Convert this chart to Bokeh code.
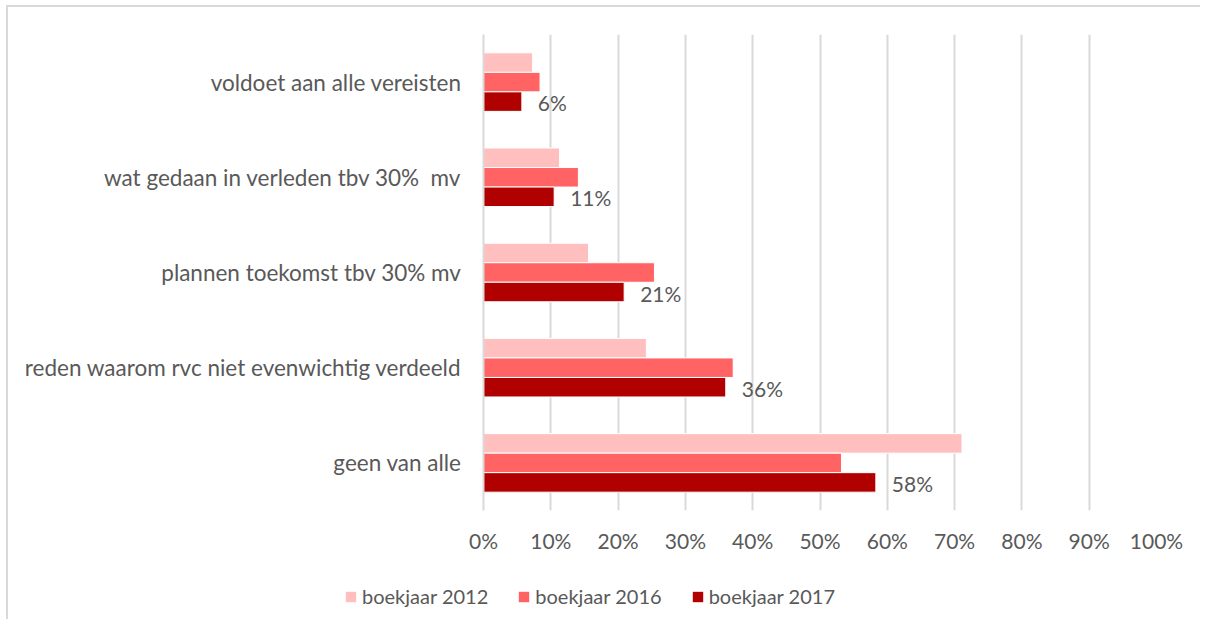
from bokeh.plotting import figure
from bokeh.layouts import column, row
from bokeh.models import (ColumnDataSource, FactorRange, Legend, LegendItem, FixedTicker,
                          NumeralTickFormatter, Range1d)
from bokeh.transform import dodge
from bokeh.core.properties import value
from bokeh.embed import file_html
from bokeh.resources import INLINE

# categories bottom-to-top
categories = [
    "geen van alle",
    "reden waarom rvc niet evenwichtig verdeeld",
    "plannen toekomst tbv 30% mv",
    "wat gedaan in verleden tbv 30%\u00a0 mv",
    "voldoet aan alle vereisten",
]
v2012 = [0.711, 0.242, 0.156, 0.113, 0.073]
v2016 = [0.532, 0.371, 0.254, 0.141, 0.084]
v2017 = [0.583, 0.360, 0.209, 0.105, 0.057]
labels2017 = ["58%", "36%", "21%", "11%", "6%"]
series_names = ["boekjaar 2012", "boekjaar 2016", "boekjaar 2017"]
series_cols = ["v2012", "v2016", "v2017"]
x_ticks = [0, 0.1, 0.2, 0.3, 0.4, 0.5, 0.6, 0.7, 0.8, 0.9, 1.0]

colors = ["#FFBFBF", "#FF6363", "#B00000"]
FONT = "Lato"
TXT = "#595959"
GRID = "#d9d9d9"

source = ColumnDataSource(dict(cat=categories, v2012=v2012, v2016=v2016, v2017=v2017, lab=labels2017))

p = figure(width=1192, height=558, output_backend="svg", toolbar_location=None,
           y_range=FactorRange(factors=categories), x_range=Range1d(0, 1),
           min_border_left=475, min_border_right=44, min_border_top=27, min_border_bottom=55)
p.outline_line_color = None

bar_h = 0.205
offsets = [0.205, 0.0, -0.205]
for col, off, c in zip(series_cols, offsets, colors):
    p.hbar(y=dodge("cat", off, range=p.y_range), right=col, left=0, height=bar_h,
           source=source, fill_color=c, line_color="white", line_width=1)

p.text(x="v2017", y=dodge("cat", -0.205, range=p.y_range), text="lab", source=source,
       x_offset=16, y_offset=1, text_baseline="middle", text_align="left",
       text_font=value(FONT), text_font_size="21px", text_color=TXT)

# axes
p.xaxis.ticker = FixedTicker(ticks=x_ticks)
p.xaxis.formatter = NumeralTickFormatter(format="0%")
p.xaxis.axis_line_color = None
p.xaxis.major_tick_line_color = None
p.xaxis.minor_tick_line_color = None
p.xaxis.major_label_text_font = FONT
p.xaxis.major_label_text_font_size = "21px"
p.xaxis.major_label_text_color = TXT
p.xaxis.major_label_standoff = 11

p.yaxis.axis_line_color = GRID
p.yaxis.axis_line_width = 2
p.yaxis.major_tick_line_color = None
p.yaxis.minor_tick_line_color = None
p.yaxis.major_label_text_font = FONT
p.yaxis.major_label_text_font_size = "22.5px"
p.yaxis.major_label_text_color = TXT
p.yaxis.major_label_standoff = 16

p.xgrid.ticker = FixedTicker(ticks=x_ticks)
p.xgrid.grid_line_color = GRID
p.xgrid.grid_line_width = 2
p.ygrid.grid_line_color = None

# legend strip (separate figure so the legend can sit left of the plot frame);
# its x range lies outside the data so the proxy bars themselves are not shown
pl = figure(width=1192, height=54, output_backend="svg", toolbar_location=None,
            x_axis_type=None, y_axis_type=None, x_range=Range1d(-2, -1),
            y_range=FactorRange(factors=categories),
            min_border=0, min_border_left=0, min_border_right=0, min_border_top=0, min_border_bottom=0)
pl.outline_line_color = None
pl.grid.grid_line_color = None
lr = [pl.hbar(y="cat", right=col, left=0, height=bar_h, source=source,
              fill_color=c, line_color=None)
      for col, c in zip(series_cols, colors)]

legend = Legend(items=[LegendItem(label=n, renderers=[r]) for n, r in zip(series_names, lr)],
                orientation="horizontal", location=(336, 11),
                glyph_width=13, glyph_height=13, label_standoff=5, spacing=29,
                padding=0, margin=0, border_line_color=None, background_fill_alpha=0,
                label_text_font=FONT, label_text_font_size="20px", label_text_color=TXT)
pl.add_layout(legend)

layout = column(p, row(pl), spacing=0)
layout.styles = {"margin-left": "6px", "margin-top": "5px",
                 "border-left": "2px solid #d9d9d9", "border-top": "2px solid #d9d9d9"}

open("out.html", "w").write(file_html(layout, INLINE))
